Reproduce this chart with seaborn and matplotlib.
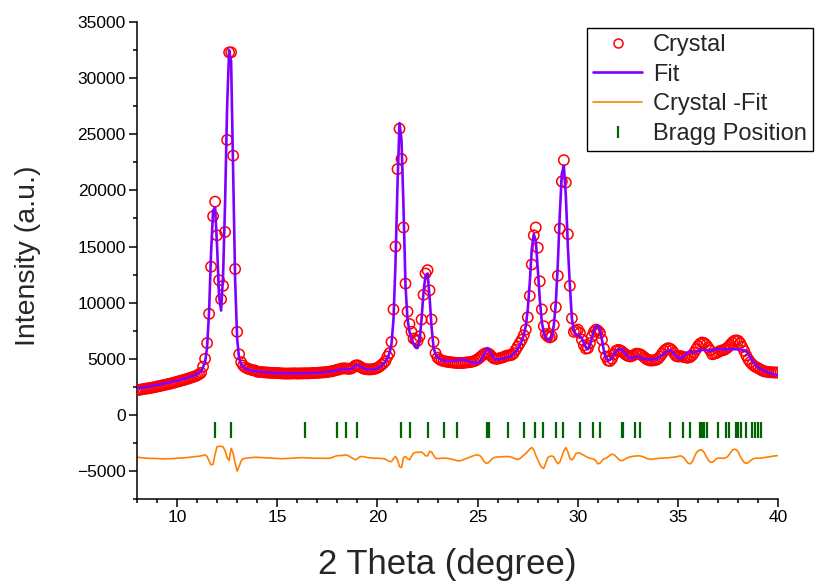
import numpy as np
import matplotlib
matplotlib.use("Agg")
import matplotlib.pyplot as plt
from matplotlib.lines import Line2D
from matplotlib.ticker import MultipleLocator
import seaborn as sns

# --- datos (paso de 0.1 grados, 8.0 -> 40.0) ---
two_theta = np.round(np.arange(8.0, 40.05, 0.1), 1)

crystal = [
    2200, 2230, 2260, 2290, 2320, 2350, 2380, 2410, 2440, 2480,
    2520, 2560, 2600, 2640, 2680, 2720, 2760, 2800, 2850, 2900,
    2950, 3000, 3050, 3100, 3150, 3200, 3260, 3320, 3380, 3440,
    3520, 3620, 3750, 4300, 5000, 6400, 9000, 13200, 17700, 19000,
    16000, 12000, 10300, 11500, 16300, 24500, 32300, 32300, 23100, 13000,
    7400, 5400, 4700, 4400, 4250, 4150, 4080, 4020, 3980, 3950,
    3850, 3830, 3820, 3800, 3790, 3770, 3760, 3750, 3740, 3740,
    3730, 3720, 3700, 3690, 3690, 3680, 3690, 3690, 3700, 3700,
    3690, 3690, 3700, 3700, 3710, 3700, 3710, 3720, 3730, 3740,
    3750, 3760, 3780, 3790, 3800, 3830, 3850, 3880, 3920, 3970,
    4020, 4060, 4120, 4150, 4140, 4120, 4100, 4150, 4250, 4400,
    4420, 4330, 4220, 4130, 4080, 4060, 4050, 4060, 4080, 4120,
    4200, 4300, 4450, 4600, 4800, 5200, 5500, 6500, 9400, 15000,
    21900, 25500, 22800, 16700, 11700, 9200, 8100, 7400, 6800, 6700,
    6600, 7000, 8500, 10700, 12600, 12900, 11100, 8500, 6500, 5500,
    5100, 4950, 4850, 4800, 4760, 4730, 4700, 4680, 4660, 4640,
    4620, 4620, 4620, 4640, 4660, 4680, 4700, 4730, 4780, 4850,
    4950, 5100, 5250, 5400, 5500, 5500, 5400, 5200, 5050, 5000,
    5000, 5050, 5100, 5150, 5250, 5300, 5300, 5350, 5500, 5800,
    6100, 6400, 6700, 7100, 7600, 8700, 10600, 13400, 16000, 16700,
    14900, 11900, 9400, 7900, 7200, 7000, 6900, 7000, 8000, 9600,
    12400, 16600, 20800, 22700, 20700, 16100, 11500, 8600, 7400, 7500,
    7600, 7300, 6700, 6200, 5900, 5950, 6400, 7000, 7400, 7600,
    7500, 7300, 6700, 5900, 5200, 4850, 4800, 5000, 5400, 5700,
    5800, 5750, 5650, 5500, 5350, 5250, 5200, 5250, 5350, 5450,
    5450, 5400, 5300, 5150, 5000, 4900, 4850, 4850, 4870, 4900,
    5000, 5200, 5450, 5700, 5850, 5950, 5900, 5750, 5500, 5250,
    5200, 5250, 5200, 5150, 5100, 5100, 5150, 5300, 5550, 5850,
    6150, 6350, 6450, 6400, 6250, 6000, 5750, 5400, 5450, 5500,
    5600, 5700, 5750, 5800, 5900, 6050, 6250, 6450, 6600, 6650,
    6600, 6400, 6050, 5700, 5300, 4950, 4700, 4500, 4350, 4250,
    4150, 4050, 3950, 3880, 3850, 3820, 3800, 3790, 3780, 3780,
    3770,
]

fit = [
    2350, 2380, 2410, 2440, 2470, 2500, 2530, 2560, 2590, 2620,
    2650, 2690, 2730, 2770, 2810, 2850, 2890, 2930, 2970, 3010,
    3050, 3100, 3150, 3200, 3250, 3300, 3360, 3420, 3480, 3560,
    3650, 3750, 3900, 4250, 4700, 6000, 9200, 14500, 18200, 18500,
    15000, 10500, 9300, 12500, 19000, 27500, 32500, 31500, 21500, 12000,
    6800, 5000, 4500, 4250, 4150, 4050, 3990, 3950, 3920, 3900,
    3880, 3860, 3840, 3820, 3800, 3790, 3780, 3770, 3760, 3750,
    3740, 3730, 3720, 3710, 3700, 3700, 3700, 3700, 3700, 3700,
    3700, 3700, 3700, 3710, 3710, 3720, 3720, 3730, 3740, 3750,
    3760, 3770, 3780, 3800, 3820, 3840, 3860, 3880, 3910, 3950,
    4000, 4050, 4080, 4100, 4100, 4090, 4080, 4100, 4200, 4380,
    4450, 4380, 4250, 4150, 4100, 4080, 4070, 4070, 4080, 4100,
    4150, 4250, 4400, 4550, 4750, 5050, 5500, 6300, 8500, 13500,
    20500, 26000, 24500, 18500, 11500, 8500, 7400, 6800, 6300, 6000,
    5950, 6600, 8500, 11000, 12400, 12600, 10500, 7800, 6000, 5400,
    5150, 5000, 4900, 4850, 4820, 4800, 4800, 4800, 4800, 4820,
    4850, 4900, 4900, 4880, 4850, 4800, 4750, 4700, 4650, 4620,
    4650, 4750, 4950, 5300, 5700, 5950, 5700, 5300, 5050, 4950,
    4950, 4950, 5000, 5050, 5100, 5150, 5200, 5300, 5450, 5650,
    5900, 6200, 6600, 7100, 7900, 9400, 11800, 14800, 16100, 15500,
    13000, 10300, 8300, 7300, 6800, 6700, 6700, 7000, 8000, 10000,
    13500, 18000, 21500, 22200, 19500, 15000, 11500, 8600, 7500, 7200,
    7100, 7000, 6800, 6400, 6000, 5850, 6200, 6900, 7500, 7900,
    7950, 7600, 6700, 5700, 5050, 4900, 4900, 5100, 5400, 5650,
    5800, 5850, 5850, 5650, 5350, 5150, 5050, 5050, 5150, 5200,
    5200, 5150, 5050, 4980, 4950, 4950, 4950, 4950, 4960, 4980,
    5050, 5150, 5300, 5450, 5600, 5700, 5730, 5650, 5450, 5250,
    5100, 5050, 5100, 5250, 5450, 5600, 5650, 5600, 5550, 5600,
    5700, 5750, 5800, 5800, 5780, 5750, 5700, 5720, 5800, 5850,
    5870, 5880, 5870, 5850, 5840, 5840, 5850, 5860, 5860, 5850,
    5850, 5830, 5800, 5750, 5650, 5450, 5150, 4850, 4620, 4420,
    4250, 4100, 4000, 3920, 3850, 3780, 3720, 3660, 3610, 3580,
    3550,
]

# curva diferencia (ya desplazada, como en la figura)
diff = [
    -3770, -3790, -3810, -3830, -3850, -3860, -3870, -3880, -3880, -3880,
    -3890, -3900, -3910, -3920, -3910, -3900, -3900, -3890, -3890, -3880,
    -3860, -3850, -3840, -3830, -3820, -3800, -3780, -3760, -3740, -3720,
    -3700, -3680, -3650, -3600, -3560, -3700, -4100, -4450, -4400, -3500,
    -2820, -2800, -2800, -2850, -3200, -3800, -4070, -2970, -3400, -4300,
    -5000, -4600, -4100, -3900, -3870, -3840, -3820, -3800, -3790, -3780,
    -3780, -3790, -3800, -3810, -3820, -3830, -3840, -3850, -3860, -3870,
    -3880, -3890, -3900, -3900, -3890, -3880, -3870, -3860, -3850, -3840,
    -3830, -3820, -3810, -3810, -3820, -3830, -3840, -3850, -3860, -3860,
    -3860, -3860, -3860, -3870, -3870, -3870, -3860, -3820, -3760, -3680,
    -3640, -3620, -3620, -3600, -3570, -3580, -3700, -3800, -3900, -4000,
    -3900, -3750, -3700, -3720, -3760, -3800, -3820, -3840, -3850, -3860,
    -3860, -3870, -3880, -3900, -3950, -4050, -4150, -4160, -3900, -3700,
    -4000, -4600, -4700, -3800, -3700, -3900, -4000, -3700, -3400, -3350,
    -3330, -3320, -3310, -3450, -3650, -3650, -3250, -3300, -3600, -3860,
    -3900, -3880, -3860, -3850, -3860, -3880, -3900, -3950, -4000, -4050,
    -4090, -4090, -4050, -3980, -3900, -3850, -3780, -3700, -3630, -3580,
    -3560, -3620, -3800, -4100, -4280, -4300, -4150, -3950, -3820, -3760,
    -3750, -3740, -3730, -3720, -3710, -3710, -3730, -3770, -3850, -3930,
    -3950, -3900, -3750, -3580, -3450, -3250, -3050, -2910, -3100, -3600,
    -4000, -4400, -4700, -4750, -4300, -3800, -3700, -3650, -3750, -4100,
    -4350, -4200, -3700, -3200, -2910, -3300, -3900, -4010, -3800, -3450,
    -3380, -3400, -3500, -3600, -3700, -3800, -3860, -3900, -3950, -4100,
    -4360, -4300, -4100, -3900, -3860, -3750, -3600, -3500, -3550, -3700,
    -3900, -4050, -4090, -4000, -3900, -3800, -3750, -3700, -3680, -3660,
    -3650, -3650, -3700, -3760, -3850, -3920, -3950, -3940, -3920, -3900,
    -3880, -3860, -3850, -3840, -3830, -3820, -3800, -3780, -3760, -3740,
    -3700, -3650, -3700, -3850, -4100, -4300, -4360, -4200, -3800, -3400,
    -3200, -3120, -3150, -3350, -3700, -4000, -4200, -4230, -4100, -3900,
    -3860, -3850, -3860, -3860, -3800, -3650, -3400, -3150, -3060, -3100,
    -3300, -3700, -4000, -4250, -4310, -4250, -4100, -3950, -3880, -3860,
    -3860, -3850, -3830, -3800, -3770, -3740, -3710, -3680, -3660, -3640,
    -3620,
]

bragg_pos = [
    11.9, 12.7, 16.38, 17.98, 18.45, 18.97, 21.18, 21.63, 22.53, 23.32,
    23.97, 25.48, 25.55, 26.52, 27.3, 27.85, 28.27, 28.93, 29.27, 30.13,
    30.77, 31.1, 32.2, 32.27, 32.85, 33.1, 34.6, 35.23, 35.57, 36.1,
    36.2, 36.3, 36.42, 36.97, 37.4, 37.55, 37.9, 38.0, 38.13, 38.4,
    38.68, 38.85, 39.0, 39.15,
]
BRAGG_LEVEL = -1350

# --- estilo ---
sns.set_style("ticks")
plt.rcParams["font.family"] = ["Liberation Sans", "DejaVu Sans"]

C_OBS = "#FF0000"
C_FIT = "#7F00FF"
C_DIF = "#FF8000"
C_BRAGG = "#006400"

fig = plt.figure(figsize=(8.15, 5.81), dpi=100)
ax = fig.add_axes([0.168, 0.141, 0.787, 0.821])

sns.lineplot(x=two_theta, y=diff, ax=ax, color=C_DIF, linewidth=1.2, zorder=2)
sns.scatterplot(x=two_theta, y=crystal, ax=ax, marker="o", s=55,
                facecolor="none", edgecolor=C_OBS, linewidth=1.1, zorder=3)
sns.lineplot(x=two_theta, y=fit, ax=ax, color=C_FIT, linewidth=1.9, zorder=4)
sns.scatterplot(x=bragg_pos, y=np.full(len(bragg_pos), BRAGG_LEVEL), ax=ax,
                marker="|", s=120, color=C_BRAGG, linewidth=1.6, zorder=3)

ax.set_xlim(8, 40)
ax.set_ylim(-7500, 35000)
ax.xaxis.set_major_locator(MultipleLocator(5))
ax.xaxis.set_minor_locator(MultipleLocator(1))
ax.yaxis.set_minor_locator(MultipleLocator(2500))
ax.set_yticks(np.arange(-5000, 35001, 5000))
ax.tick_params(which="major", direction="out", length=6, width=1.1, pad=2,
               labelsize=12.5, color="black", labelcolor="black")
ax.tick_params(which="minor", direction="out", length=3, width=1.1, color="black")
for side in ["left", "bottom"]:
    ax.spines[side].set_linewidth(1.1)
    ax.spines[side].set_color("black")
sns.despine(ax=ax)

ax.set_xlabel("2 Theta (degree)", fontsize=25)
ax.set_ylabel("Intensity (a.u.)", fontsize=20.5)
ax.xaxis.set_label_coords(0.484, -0.103)
ax.yaxis.set_label_coords(-0.15, 0.51)

handles = [
    Line2D([], [], linestyle="none", marker="o", markersize=6.5,
           markerfacecolor="none", markeredgecolor=C_OBS, markeredgewidth=1.1),
    Line2D([], [], color=C_FIT, linewidth=1.9),
    Line2D([], [], color=C_DIF, linewidth=1.2),
    Line2D([], [], linestyle="none", marker="|", markersize=9,
           markeredgecolor=C_BRAGG, markeredgewidth=1.6),
]
labels = ["Crystal", "Fit", "Crystal -Fit", "Bragg Position"]
leg = fig.legend(handles, labels, loc="upper left",
                 bbox_to_anchor=(587 / 815, 1 - 28 / 581),
                 fontsize=17, frameon=True, fancybox=False, framealpha=1,
                 edgecolor="black", borderpad=0.25, labelspacing=0.33,
                 handlelength=2.1, handletextpad=0.45, borderaxespad=0)
leg.get_frame().set_linewidth(1.0)

fig.savefig("out.png", dpi=100)
